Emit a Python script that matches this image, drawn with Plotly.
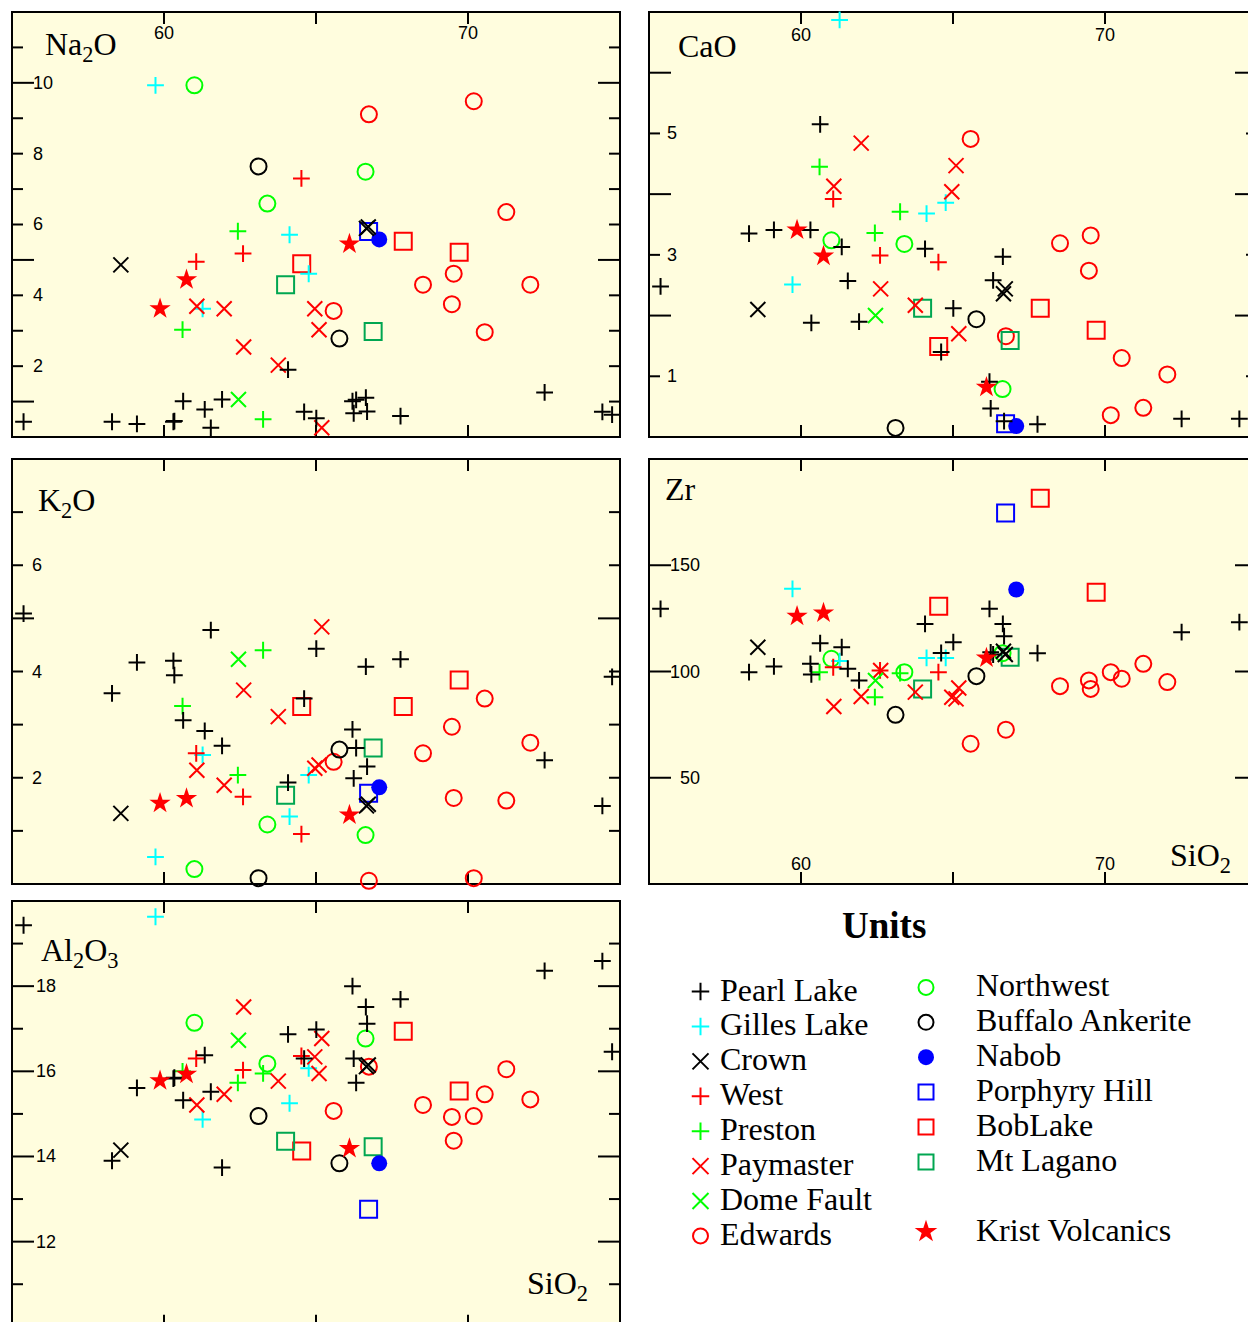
import plotly.graph_objects as go

# Whole-rock chemistry by unit: SiO2 (wt%) against Na2O, CaO, K2O, Al2O3 (wt%) and Zr (ppm).
# One value per sample; every list of a unit follows the same sample order.

pearl_sio2 = [55.38, 58.29, 59.11, 60.31, 60.34, 60.63, 61.34, 61.54, 61.91, 64.08, 64.61,
              65.01, 66.20, 66.24, 66.32, 66.64, 66.68, 67.78, 72.52, 74.42, 74.74]
pearl_na2o = [0.43, 0.43, 0.37, 0.43, 0.45, 1.01, 0.78, 0.26, 1.06, 1.90, 0.71,
              0.53, 1.01, 0.67, 1.05, 1.11, 0.72, 0.59, 1.26, 0.71, 0.63]
pearl_cao = [2.48, 3.35, 3.41, 3.41, 1.88, 5.15, 3.13, 2.57, 1.90, 3.10, 1.40,
             2.12, 0.91, 0.47, 2.58, 2.97, 0.26, 0.21, 0.30, 0.30, 0.25]
pearl_k2o = [5.09, 3.59, 4.17, 4.20, 3.93, 3.08, 2.88, 4.78, 2.60, 1.91, 3.49,
             4.43, 2.91, 1.99, 2.56, 4.09, 2.21, 4.23, 2.33, 1.47, 3.90]
pearl_zr = [129.5, 99.7, 102.4, 103.6, 98.6, 113.3, 111.4, 101.3, 95.8, 122.4, 108.7,
            113.8, 129.5, 109.0, 108.0, 122.4, 116.6, 108.6, 118.5, 123.2, 105.0]
pearl_al2o3 = [19.43, 13.90, 15.61, 15.83, 15.85, 15.32, 16.38, 15.52, 13.74, 16.87, 16.30,
               16.98, 18.00, 16.30, 15.73, 17.51, 17.12, 17.69, 18.36, 18.59, 16.46]

gilles_sio2 = [59.72, 61.27, 64.13, 64.76]
gilles_na2o = [9.93, 3.62, 5.71, 4.61]
gilles_cao = [2.51, 6.87, 3.68, 3.86]
gilles_k2o = [0.51, 2.43, 1.27, 2.05]
gilles_zr = [138.9, 104.9, 106.4, 106.4]
gilles_al2o3 = [19.63, 14.87, 15.25, 16.07]

crown_sio2 = [58.58, 66.66, 66.72]
crown_na2o = [4.86, 5.89, 5.93]
crown_cao = [2.10, 2.36, 2.44]
crown_k2o = [1.33, 1.47, 1.50]
crown_zr = [111.4, 109.5, 108.0]
crown_al2o3 = [14.15, 16.11, 16.15]

west_sio2 = [61.06, 62.60, 64.52]
west_na2o = [4.95, 5.18, 7.30]
west_cao = [3.92, 2.99, 2.88]
west_k2o = [2.46, 1.64, 0.94]
west_zr = [102.0, 100.5, 99.7]
west_al2o3 = [16.30, 16.03, 16.36]

preston_sio2 = [60.61, 62.43, 63.26]
preston_na2o = [3.03, 5.81, 0.50]
preston_cao = [4.45, 3.36, 3.71]
preston_k2o = [3.35, 2.05, 4.40]
preston_zr = [99.7, 87.9, 99.2]
preston_al2o3 = [16.00, 15.73, 15.95]

paymaster_sio2 = [61.08, 61.98, 62.62, 63.76, 64.96, 65.10, 65.19]
paymaster_na2o = [3.69, 3.62, 2.54, 2.03, 3.62, 3.03, 0.26]
paymaster_cao = [4.13, 4.84, 2.44, 2.17, 4.04, 4.47, 1.70]
paymaster_k2o = [2.14, 1.86, 3.65, 3.15, 2.18, 2.24, 4.84]
paymaster_zr = [83.5, 88.2, 100.5, 90.3, 87.9, 87.1, 92.2]
paymaster_al2o3 = [15.21, 15.46, 17.51, 15.77, 16.34, 15.95, 16.77]

dome_sio2 = [62.45]
dome_na2o = [1.06]
dome_cao = [2.00]
dome_k2o = [4.23]
dome_zr = [95.8]
dome_al2o3 = [16.73]

edwards_sio2 = [65.58, 66.74, 68.52, 69.47, 69.53, 70.19, 70.55, 71.26, 72.05]
edwards_na2o = [3.56, 9.11, 4.30, 3.75, 4.61, 9.48, 2.96, 6.35, 4.30]
edwards_cao = [4.91, 1.66, 3.19, 2.74, 3.32, 0.36, 1.30, 0.48, 1.03]
edwards_k2o = [2.30, 0.06, 2.46, 2.96, 1.62, 0.11, 3.49, 1.57, 2.66]
edwards_zr = [66.0, 72.6, 93.1, 95.8, 91.8, 99.7, 96.6, 103.6, 95.0]
edwards_al2o3 = [15.07, 16.11, 15.21, 14.93, 14.37, 14.95, 15.46, 16.05, 15.34]

northwest_sio2 = [61.00, 63.40, 66.63]
northwest_na2o = [9.93, 6.59, 7.49]
northwest_cao = [3.24, 3.18, 0.79]
northwest_k2o = [0.28, 1.12, 0.92]
northwest_zr = [106.0, 99.7, 108.6]
northwest_al2o3 = [17.14, 16.18, 16.77]

buffalo_sio2 = [63.11, 65.77]
buffalo_na2o = [7.64, 2.78]
buffalo_cao = [0.15, 1.94]
buffalo_k2o = [0.11, 2.53]
buffalo_zr = [79.6, 97.8]
buffalo_al2o3 = [14.95, 13.84]

nabob_sio2 = [67.08]
nabob_na2o = [5.58]
nabob_cao = [0.18]
nabob_k2o = [1.82]
nabob_zr = [138.6]
nabob_al2o3 = [13.84]

porphyry_sio2 = [66.73]
porphyry_na2o = [5.80]
porphyry_cao = [0.22]
porphyry_k2o = [1.71]
porphyry_zr = [174.6]
porphyry_al2o3 = [12.76]

boblake_sio2 = [64.53, 67.87, 69.71]
boblake_na2o = [4.89, 5.53, 5.22]
boblake_cao = [1.49, 2.12, 1.76]
boblake_k2o = [3.34, 3.34, 3.84]
boblake_zr = [130.7, 181.5, 137.3]
boblake_al2o3 = [14.13, 16.94, 15.54]

lagano_sio2 = [64.00, 66.88]
lagano_na2o = [4.30, 2.98]
lagano_cao = [2.12, 1.59]
lagano_k2o = [1.67, 2.56]
lagano_zr = [91.8, 106.7]
lagano_al2o3 = [14.36, 14.23]

krist_sio2 = [59.87, 60.74, 66.10]
krist_na2o = [3.62, 4.44, 5.45]
krist_cao = [3.41, 2.98, 0.82]
krist_k2o = [1.52, 1.61, 1.30]
krist_zr = [126.0, 127.6, 106.4]
krist_al2o3 = [15.78, 15.93, 14.19]

# ---------------------------------------------------------------- styling
BLACK, CYAN, RED, GREEN, BLUE, SEA = "#000000", "#00FFFF", "#FF0000", "#00FF00", "#0000FF", "#00A651"
BG = "#FFFDDE"
SANS = "Liberation Sans, Arial, sans-serif"
SERIF = "Liberation Serif, Times New Roman, serif"


def unit(name, sio2, na2o, cao, k2o, zr, al2o3, symbol, color, size, lsize):
    return dict(name=name, sio2=sio2, na2o=na2o, cao=cao, k2o=k2o, zr=zr, al2o3=al2o3,
                symbol=symbol, color=color, size=size, lsize=lsize)


units = {
    "Pearl Lake": unit("Pearl Lake", pearl_sio2, pearl_na2o, pearl_cao, pearl_k2o, pearl_zr, pearl_al2o3,
                       "cross-thin", BLACK, 12, 12.5),
    "Gilles Lake": unit("Gilles Lake", gilles_sio2, gilles_na2o, gilles_cao, gilles_k2o, gilles_zr, gilles_al2o3,
                        "cross-thin", CYAN, 12, 12.5),
    "Crown": unit("Crown", crown_sio2, crown_na2o, crown_cao, crown_k2o, crown_zr, crown_al2o3,
                  "x-thin", BLACK, 15, 16),
    "West": unit("West", west_sio2, west_na2o, west_cao, west_k2o, west_zr, west_al2o3,
                 "cross-thin", RED, 12, 12.5),
    "Preston": unit("Preston", preston_sio2, preston_na2o, preston_cao, preston_k2o, preston_zr, preston_al2o3,
                    "cross-thin", GREEN, 12, 12.5),
    "Paymaster": unit("Paymaster", paymaster_sio2, paymaster_na2o, paymaster_cao, paymaster_k2o, paymaster_zr,
                      paymaster_al2o3, "x-thin", RED, 15, 16),
    "Dome Fault": unit("Dome Fault", dome_sio2, dome_na2o, dome_cao, dome_k2o, dome_zr, dome_al2o3,
                       "x-thin", GREEN, 15, 16),
    "Edwards": unit("Edwards", edwards_sio2, edwards_na2o, edwards_cao, edwards_k2o, edwards_zr, edwards_al2o3,
                    "circle-open", RED, 16, 15),
    "Northwest": unit("Northwest", northwest_sio2, northwest_na2o, northwest_cao, northwest_k2o, northwest_zr,
                      northwest_al2o3, "circle-open", GREEN, 16, 15),
    "Buffalo Ankerite": unit("Buffalo Ankerite", buffalo_sio2, buffalo_na2o, buffalo_cao, buffalo_k2o, buffalo_zr,
                             buffalo_al2o3, "circle-open", BLACK, 16, 15),
    "Nabob": unit("Nabob", nabob_sio2, nabob_na2o, nabob_cao, nabob_k2o, nabob_zr, nabob_al2o3,
                  "circle", BLUE, 16, 16),
    "Porphyry Hill": unit("Porphyry Hill", porphyry_sio2, porphyry_na2o, porphyry_cao, porphyry_k2o, porphyry_zr,
                          porphyry_al2o3, "square-open", BLUE, 17, 15),
    "BobLake": unit("BobLake", boblake_sio2, boblake_na2o, boblake_cao, boblake_k2o, boblake_zr, boblake_al2o3,
                    "square-open", RED, 17, 15),
    "Mt Lagano": unit("Mt Lagano", lagano_sio2, lagano_na2o, lagano_cao, lagano_k2o, lagano_zr, lagano_al2o3,
                      "square-open", SEA, 17, 15),
    "Krist Volcanics": unit("Krist Volcanics", krist_sio2, krist_na2o, krist_cao, krist_k2o, krist_zr, krist_al2o3,
                            "star", RED, 16, 17),
}

# drawing order (later units sit on top)
draw_order = ["Edwards", "BobLake", "Mt Lagano", "Northwest", "Porphyry Hill", "Nabob", "Buffalo Ankerite",
              "Gilles Lake", "Preston", "West", "Paymaster", "Dome Fault", "Pearl Lake", "Crown",
              "Krist Volcanics"]

# legend layout: two columns, None leaves a blank row
legend_cols = [
    ["Pearl Lake", "Gilles Lake", "Crown", "West", "Preston", "Paymaster", "Dome Fault", "Edwards"],
    ["Northwest", "Buffalo Ankerite", "Nabob", "Porphyry Hill", "BobLake", "Mt Lagano", None, "Krist Volcanics"],
]

W, H = 1248, 1322
X_RANGE = (55, 75)
X_TICKS = [60, 65, 70]
X_LABELS = [60, 70]

# panel frames in pixels (right/bottom may run past the page edge)
panels = [
    dict(key="na2o", n="", left=12, right=620, top=12, bottom=437, yr=(0, 12),
         title="Na<sub>2</sub>O", tdx=31, tdy=35,
         ylab=[2, 4, 6, 8, 10], ydx=19, yanchor="left",
         long_l=[10, 5, 1], short_l=[11, 9, 8, 7, 6, 4, 3, 2],
         long_r=[10, 5], short_r=[11, 9, 8, 7, 6, 4, 3, 2, 1], xlab="top", xdy=21),
    dict(key="cao", n="2", left=649, right=1257, top=12, bottom=437, yr=(0, 7),
         title="CaO", tdx=27, tdy=34,
         ylab=[1, 3, 5], ydx=16, yanchor="left",
         long_l=[6, 4, 2], short_l=[5, 3, 1],
         long_r=[6, 4, 2], short_r=[5, 3, 1], xlab="top", xdy=23),
    dict(key="k2o", n="3", left=12, right=620, top=459, bottom=884, yr=(0, 8),
         title="K<sub>2</sub>O", tdx=24, tdy=43,
         ylab=[2, 4, 6], ydx=18, yanchor="left",
         long_l=[5], short_l=[7, 6, 4, 3, 2, 1],
         long_r=[5], short_r=[7, 6, 4, 3, 2, 1], xlab=None, xdy=0),
    dict(key="zr", n="4", left=649, right=1257, top=459, bottom=884, yr=(0, 200),
         title="Zr", tdx=14, tdy=30,
         ylab=[50, 100, 150], ydx=53, yanchor="right",
         long_l=[150, 100, 50], short_l=[],
         long_r=[150, 100, 50], short_r=[], xlab="bottom", xdy=20,
         sio2=(519, 398)),
    dict(key="al2o3", n="5", left=12, right=620, top=901, bottom=1326.8, yr=(10, 20),
         title="Al<sub>2</sub>O<sub>3</sub>", tdx=27, tdy=51,
         ylab=[12, 14, 16, 18], ydx=22, yanchor="left",
         long_l=[18, 16, 14, 12], short_l=[19, 17, 15, 13, 11],
         long_r=[18, 16, 14, 12], short_r=[19, 17, 15, 13, 11], xlab="bottom", xdy=20,
         sio2=(513, 384)),
]

LONG, SHORT, XTICK = 22, 11, 12
TICK_LINE = dict(color="black", width=2)
TICK_FONT = dict(family=SANS, size=18, color="black")

fig = go.Figure()
layout = dict(width=W, height=H, margin=dict(l=0, r=0, t=0, b=0, pad=0),
              paper_bgcolor="white", plot_bgcolor="rgba(0,0,0,0)", showlegend=False,
              font=dict(family=SANS, color="black"))
shapes, annotations = [], []

for p in panels:
    n = p["n"]
    xr, yr = X_RANGE, p["yr"]
    vis_r, vis_b = min(p["right"], W), min(p["bottom"], H)
    x_hi = xr[0] + (xr[1] - xr[0]) * (vis_r - p["left"]) / (p["right"] - p["left"])
    y_lo = yr[0] + (yr[1] - yr[0]) * (p["bottom"] - vis_b) / (p["bottom"] - p["top"])
    layout["xaxis" + n] = dict(domain=[p["left"] / W, vis_r / W], range=[xr[0], x_hi],
                               anchor="y" + n, visible=False)
    layout["yaxis" + n] = dict(domain=[1 - vis_b / H, 1 - p["top"] / H], range=[y_lo, yr[1]],
                               anchor="x" + n, visible=False)
    xa, ya = "x" + n, "y" + n

    # frame with pale fill
    shapes.append(dict(type="rect", layer="below", xref=xa + " domain", yref=ya + " domain",
                       x0=0, x1=(p["right"] - p["left"]) / (vis_r - p["left"]),
                       y0=-(p["bottom"] - vis_b) / (vis_b - p["top"]), y1=1,
                       fillcolor=BG, line=dict(color="black", width=2)))

    # y ticks on both sides
    for vals, length, anchor, sign in [(p["long_l"], LONG, xr[0], 1), (p["short_l"], SHORT, xr[0], 1),
                                       (p["long_r"], LONG, xr[1], -1), (p["short_r"], SHORT, xr[1], -1)]:
        for v in vals:
            shapes.append(dict(type="line", layer="below", xref=xa, yref=ya, xsizemode="pixel",
                               xanchor=anchor, x0=0, x1=sign * length, y0=v, y1=v, line=TICK_LINE))
    # x ticks top and bottom
    for v in X_TICKS:
        for anchor, sign in [(yr[1], -1), (yr[0], 1)]:
            shapes.append(dict(type="line", layer="below", xref=xa, yref=ya, ysizemode="pixel",
                               yanchor=anchor, y0=0, y1=sign * XTICK, x0=v, x1=v, line=TICK_LINE))

    # y tick labels inside the frame
    for v in p["ylab"]:
        annotations.append(dict(text=str(v), xref=xa + " domain", x=0, xshift=p["ydx"],
                                xanchor=p["yanchor"], yref=ya, y=v, yanchor="middle", showarrow=False,
                                font=TICK_FONT))
    # x tick labels
    if p["xlab"]:
        for v in X_LABELS:
            if p["xlab"] == "top":
                y, ysh = yr[1], -p["xdy"]
            else:
                y, ysh = yr[0], p["xdy"]
            annotations.append(dict(text=str(v), xref=xa, x=v, yref=ya, y=y, yshift=ysh,
                                    xanchor="center", yanchor="middle", showarrow=False,
                                    font=TICK_FONT))
    # oxide name
    annotations.append(dict(text=p["title"], xref=xa + " domain", x=0, xshift=p["tdx"], xanchor="left",
                            yref=ya + " domain", y=1, yshift=-p["tdy"],
                            yanchor="middle", showarrow=False,
                            font=dict(family=SERIF, size=32, color="black")))
    if "sio2" in p:
        dx, dy = p["sio2"]
        annotations.append(dict(text="SiO<sub>2</sub>", xref=xa + " domain", x=0, xshift=dx, xanchor="left",
                                yref=ya + " domain", y=1, yshift=-dy, yanchor="middle", showarrow=False,
                                font=dict(family=SERIF, size=32, color="black")))

    # data
    for name in draw_order:
        u = units[name]
        filled = u["symbol"] in ("circle", "star")
        fig.add_trace(go.Scatter(
            x=u["sio2"], y=u[p["key"]], mode="markers", xaxis=xa, yaxis=ya,
            cliponaxis=False, hoverinfo="skip", showlegend=False, name=name,
            marker=dict(symbol=u["symbol"], size=u["size"], color=u["color"],
                        line=dict(color=u["color"], width=0 if filled else 2))))

# legend panel: columns and rows on a hidden axis pair
ROW0_PX, ROW_PX = 989.5, 34.9
COL0_PX, COL_PX = 700.5, 225.5
LEG_TOP_PX = 885
lx0, lx1 = (649 - COL0_PX) / COL_PX, (W - COL0_PX) / COL_PX
ly_top, ly_bot = (LEG_TOP_PX - ROW0_PX) / ROW_PX, (H - ROW0_PX) / ROW_PX
layout["xaxis6"] = dict(domain=[649 / W, 1], range=[lx0, lx1], anchor="y6", visible=False)
layout["yaxis6"] = dict(domain=[0, 1 - LEG_TOP_PX / H], range=[ly_bot, ly_top], anchor="x6", visible=False)

col_shift = [0.06, -0.06]
text_dx = [17, 48]
for c, col in enumerate(legend_cols):
    for r, name in enumerate(col):
        if name is None:
            continue
        u = units[name]
        filled = u["symbol"] in ("circle", "star")
        fig.add_trace(go.Scatter(
            x=[c], y=[r + col_shift[c]], mode="markers", xaxis="x6", yaxis="y6",
            cliponaxis=False, hoverinfo="skip", showlegend=False, name=name,
            marker=dict(symbol=u["symbol"], size=u["lsize"], color=u["color"],
                        line=dict(color=u["color"], width=0 if filled else 2))))
        annotations.append(dict(text=name, xref="x6", x=c, xshift=text_dx[c], xanchor="left",
                                yref="y6", y=r + col_shift[c], yshift=2, yanchor="middle", showarrow=False,
                                font=dict(family=SERIF, size=32, color="black")))

annotations.append(dict(text="<b>Units</b>", xref="x6", x=(883.8 - COL0_PX) / COL_PX, xanchor="center",
                        yref="y6", y=(925 - ROW0_PX) / ROW_PX, yanchor="middle", showarrow=False,
                        font=dict(family=SERIF, size=37, color="black")))

layout["shapes"] = shapes
layout["annotations"] = annotations
fig.update_layout(**layout)

fig.write_html("out.html", config={"displayModeBar": False, "staticPlot": True},
               post_script="document.body.style.margin='0';")
